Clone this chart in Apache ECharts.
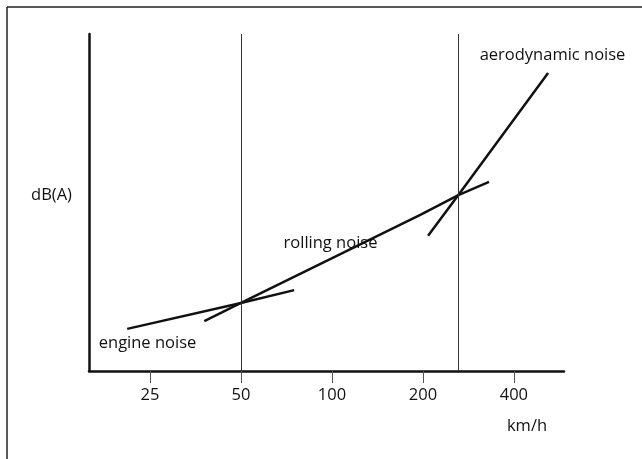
<!DOCTYPE html>
<html>
<head>
<meta charset="utf-8">
<script src="https://cdn.jsdelivr.net/npm/echarts@6/dist/echarts.min.js"></script>
<style>html,body{margin:0;padding:0;background:#fff}#c{width:642px;height:459px}</style>
</head>
<body>
<div id="c"></div>
<script>
// Speeds (km/h, log axis) and noise levels (relative dB(A), 0-100)
const engineSpeed = [21, 50, 75];
const engineLevel = [12.5, 20.2, 24.0];
const rollingSpeed = [37.8, 50, 196, 262, 331];
const rollingLevel = [14.8, 20.2, 46.3, 52.2, 56.1];
const aeroSpeed = [208, 262, 519];
const aeroLevel = [40.1, 52.2, 88.4];
const speedTicks = [25, 50, 100, 200, 400];
const transitionSpeeds = [50, 262];

const pair = (xs, ys) => xs.map((x, i) => [x, ys[i]]);
const FONT = '"Open Sans", sans-serif';
const TXT = '16.5px ' + FONT;

const chart = echarts.init(document.getElementById('c'), null, {renderer: 'canvas'});
const lineStyle = {color: '#111', width: 2.5};
chart.setOption({
  animation: false,
  backgroundColor: '#fff',
  grid: {left: 89, right: 78, top: 34, bottom: 88},
  xAxis: {
    type: 'log', logBase: 2, min: 15.7, max: 586,
    axisLine: {show: true, lineStyle: {color: '#111', width: 2.5}},
    axisTick: {show: true, customValues: speedTicks, length: 12, lineStyle: {color: '#555', width: 1}},
    axisLabel: {show: true, customValues: speedTicks, margin: 16, color: '#111', fontSize: 16.5, fontFamily: FONT},
    splitLine: {show: false}, minorTick: {show: false}
  },
  yAxis: {
    type: 'value', min: 0, max: 100,
    axisLine: {show: true, lineStyle: {color: '#111', width: 2.5}},
    axisTick: {show: false}, axisLabel: {show: false}, splitLine: {show: false}
  },
  series: [
    {name: 'engine noise', type: 'line', data: pair(engineSpeed, engineLevel), showSymbol: false, lineStyle,
     markLine: {silent: true, symbol: ['none', 'none'], label: {show: false},
       lineStyle: {color: '#333', width: 1, type: 'solid'},
       data: transitionSpeeds.map(v => ({xAxis: v}))}},
    {name: 'rolling noise', type: 'line', data: pair(rollingSpeed, rollingLevel), showSymbol: false, lineStyle},
    {name: 'aerodynamic noise', type: 'line', data: pair(aeroSpeed, aeroLevel), showSymbol: false, lineStyle}
  ],
  graphic: [
    {type: 'line', shape: {x1: 7, y1: 7, x2: 642, y2: 7}, style: {stroke: '#222', lineWidth: 1.5}},
    {type: 'line', shape: {x1: 7, y1: 7, x2: 7, y2: 459}, style: {stroke: '#222', lineWidth: 1.5}},
    {type: 'text', x: 51.5, y: 195, style: {text: 'dB(A)', font: TXT, fill: '#111', align: 'center', verticalAlign: 'middle'}},
    {type: 'text', x: 147.5, y: 343, style: {text: 'engine noise', font: TXT, fill: '#111', align: 'center', verticalAlign: 'middle'}},
    {type: 'text', x: 330.5, y: 243, style: {text: 'rolling noise', font: TXT, fill: '#111', align: 'center', verticalAlign: 'middle'}},
    {type: 'text', x: 552.5, y: 55, style: {text: 'aerodynamic noise', font: TXT, fill: '#111', align: 'center', verticalAlign: 'middle'}},
    {type: 'text', x: 527, y: 426, style: {text: 'km/h', font: TXT, fill: '#111', align: 'center', verticalAlign: 'middle'}}
  ]
});
</script>
</body>
</html>
